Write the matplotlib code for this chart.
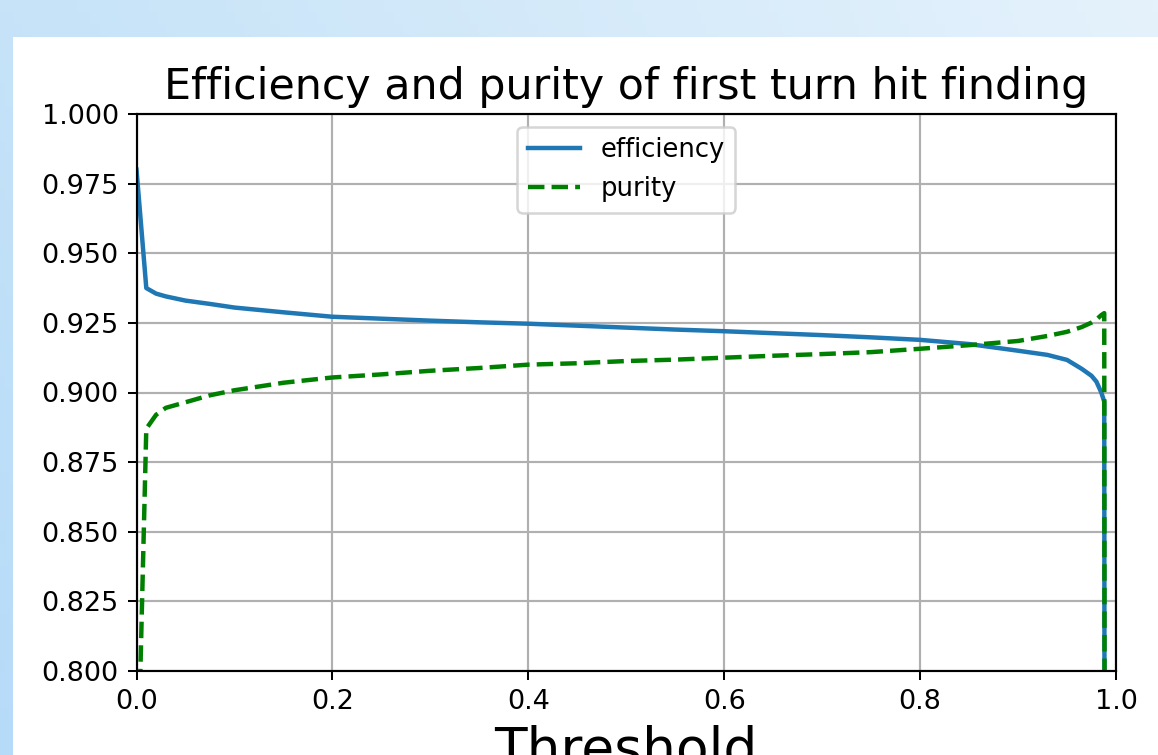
import numpy as np
import matplotlib
matplotlib.use("Agg")
import matplotlib.pyplot as plt
from matplotlib.patches import Rectangle

# Threshold scan: hit-finding efficiency and purity
threshold = [0.0, 0.01, 0.02, 0.03, 0.05, 0.075, 0.1, 0.15, 0.2, 0.25, 0.3,
             0.35, 0.4, 0.45, 0.5, 0.55, 0.6, 0.65, 0.7, 0.75, 0.8, 0.85,
             0.9, 0.93, 0.95, 0.965, 0.975, 0.98, 0.985, 0.988, 0.99]
efficiency = [0.980, 0.9375, 0.9355, 0.9345, 0.9330, 0.9318, 0.9305, 0.9288,
              0.9272, 0.9265, 0.9258, 0.9252, 0.9247, 0.9240, 0.9233, 0.9226,
              0.9220, 0.9213, 0.9206, 0.9198, 0.9189, 0.9174, 0.9150, 0.9135,
              0.9117, 0.9085, 0.9060, 0.9039, 0.9000, 0.8967, 0.0]
purity = [0.743, 0.8870, 0.8920, 0.8945, 0.8965, 0.8990, 0.9008, 0.9035,
          0.9054, 0.9065, 0.9078, 0.9088, 0.9100, 0.9105, 0.9113, 0.9118,
          0.9125, 0.9132, 0.9138, 0.9145, 0.9157, 0.9170, 0.9185, 0.9203,
          0.9218, 0.9235, 0.9251, 0.9262, 0.9278, 0.9285, 0.0]

W, H, DPI = 1158, 755, 183
plt.rcParams["font.size"] = 10.7
plt.rcParams["lines.linewidth"] = 1.75
plt.rcParams["axes.linewidth"] = 0.85
plt.rcParams["grid.linewidth"] = 0.85

fig = plt.figure(figsize=(W / DPI, H / DPI), dpi=DPI)

# slide background: light blue gradient with a white panel on top
bg = fig.add_axes([0, 0, 1, 1], zorder=-10)
top_l = np.array([198, 227, 248]) / 255
top_r = np.array([229, 242, 252]) / 255
bot_l = np.array([182, 219, 248]) / 255
bot_r = np.array([220, 238, 251]) / 255
u = np.linspace(0, 1, 256)[None, :, None]
v = np.linspace(0, 1, 64)[:, None, None]
grad = ((top_l * (1 - u) + top_r * u) * (1 - v)
        + (bot_l * (1 - u) + bot_r * u) * v)
bg.imshow(grad, aspect="auto", extent=[0, 1, 0, 1])
bg.set_axis_off()
fig.add_artist(Rectangle((13 / W, 0), 1 - 13 / W, (H - 37) / H,
                         transform=fig.transFigure, facecolor="white",
                         edgecolor="none", zorder=-5))

ax = fig.add_axes([136.5 / W, (H - 671) / H, (1116 - 136.5) / W, (671 - 114) / H])
ax.plot(threshold, efficiency, label="efficiency")
ax.plot(threshold, purity, "g--", label="purity")
ax.set_xlim(0, 1)
ax.set_ylim(0.8, 1.0)
ax.set_yticks(np.arange(0.8, 1.0001, 0.025))
ax.yaxis.set_major_formatter(matplotlib.ticker.FormatStrFormatter("%.3f"))
ax.grid(True)
ax.legend(loc="upper center", fontsize=10.2)
ax.set_title("Efficiency and purity of first turn hit finding", fontsize=16.8)
ax.set_xlabel("Threshold", fontsize=21)

fig.savefig("out.png", dpi=DPI)
